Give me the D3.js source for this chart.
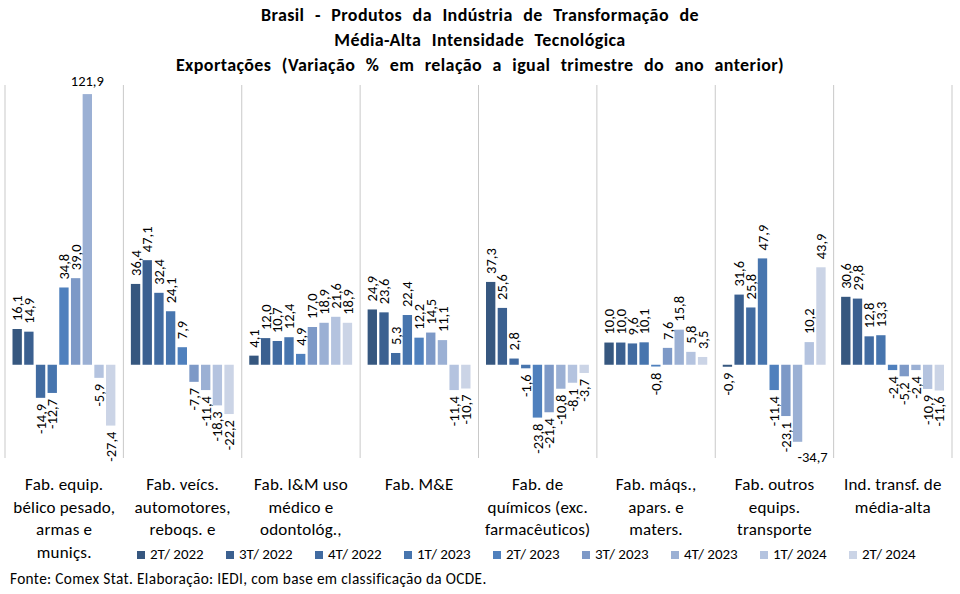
<!DOCTYPE html>
<html>
<head>
<meta charset="utf-8">
<script src="https://cdnjs.cloudflare.com/ajax/libs/d3/7.8.5/d3.min.js"></script>
<style>
  body { margin: 0; background: #fff; }
  text { font-family: Calibri, Carlito, "Liberation Sans", Arial, sans-serif; fill: #000; }
</style>
</head>
<body>
<div id="chart"></div>
<script>
// Chart data
var titleLines = [
  "Brasil - Produtos da Indústria de Transformação de",
  "Média-Alta Intensidade Tecnológica",
  "Exportações (Variação % em relação a igual trimestre do ano anterior)"
];

var quarters = ["2T/ 2022", "3T/ 2022", "4T/ 2022", "1T/ 2023", "2T/ 2023",
                "3T/ 2023", "4T/ 2023", "1T/ 2024", "2T/ 2024"];

var categoryLabels = [
  ["Fab. equip.", "bélico pesado,", "armas e", "muniçs."],
  ["Fab. veícs.", "automotores,", "reboqs. e"],
  ["Fab. I&M uso", "médico e", "odontológ.,"],
  ["Fab. M&E"],
  ["Fab. de", "químicos (exc.", "farmacêuticos)"],
  ["Fab. máqs.,", "apars. e", "maters."],
  ["Fab. outros", "equips.", "transporte"],
  ["Ind. transf. de", "média-alta"]
];

// one array per category, in quarter order
var equipBelico  = [16.1, 14.9, -14.9, -12.7, 34.8, 39.0, 121.9, -5.9, -27.4];
var veiculos     = [36.4, 47.1, 32.4, 24.1, 7.9, -7.7, -11.4, -18.3, -22.2];
var instMedicos  = [4.1, 12.0, 10.7, 12.4, 4.9, 17.0, 18.9, 21.6, 18.9];
var maqEletricos = [24.9, 23.6, 5.3, 22.4, 12.2, 14.5, 11.1, -11.4, -10.7];
var quimicos     = [37.3, 25.6, 2.8, -1.6, -23.8, -21.4, -10.8, -8.1, -3.7];
var maquinas     = [10.0, 10.0, 9.6, 10.1, -0.8, 7.6, 15.8, 5.8, 3.5];
var outrosTransp = [-0.9, 31.6, 25.8, 47.9, -11.4, -23.1, -34.7, 10.2, 43.9];
var mediaAlta    = [30.6, 29.8, 12.8, 13.3, -2.4, -5.2, -2.4, -10.9, -11.6];

var categoryValues = [equipBelico, veiculos, instMedicos, maqEletricos,
                      quimicos, maquinas, outrosTransp, mediaAlta];

var sourceNote = "Fonte: Comex Stat. Elaboração: IEDI, com base em classificação da OCDE.";

// Bar colours, one per quarter
var colors = ["#36577f", "#3b6090", "#416ba1", "#4775ae", "#4f80bd",
              "#7d99c7", "#9bb0d4", "#b4c3df", "#cbd4e6"];

// SVG area
var svgWidth = 960;
var svgHeight = 594;

var plot = { left: 5, right: 952, top: 85, bottom: 458 };

var svg = d3.select("#chart")
  .append("svg")
  .attr("width", svgWidth)
  .attr("height", svgHeight);

// Scales
var x0 = d3.scaleBand()
  .domain(d3.range(categoryValues.length))
  .range([plot.left, plot.right]);

var x1 = d3.scaleBand()
  .domain(quarters)
  .range([7.5, x0.bandwidth() - 8])
  .paddingInner(0.2);

var y = d3.scaleLinear()
  .domain([-42, 126])
  .range([plot.bottom, plot.top]);

// Title
svg.append("g")
  .selectAll("text")
  .data(titleLines)
  .enter()
  .append("text")
  .attr("x", 480)
  .attr("y", (d, i) => 21 + i * 25)
  .attr("text-anchor", "middle")
  .style("font-size", "18px")
  .style("font-weight", "bold")
  .style("letter-spacing", "0.4px")
  .style("word-spacing", "6px")
  .text(d => d);

// Group separators
svg.append("g")
  .selectAll("line")
  .data(d3.range(categoryValues.length + 1))
  .enter()
  .append("line")
  .attr("x1", d => d === categoryValues.length ? plot.right : x0(d))
  .attr("x2", d => d === categoryValues.length ? plot.right : x0(d))
  .attr("y1", plot.top)
  .attr("y2", plot.bottom)
  .attr("stroke", "#c9c9c9")
  .attr("stroke-width", 1);

// Groups of bars
var groups = svg.append("g")
  .selectAll("g")
  .data(categoryValues)
  .enter()
  .append("g")
  .attr("transform", (d, i) => `translate(${x0(i)},0)`);

groups.selectAll("rect")
  .data(d => d.map((v, j) => ({ q: quarters[j], v: v, j: j })))
  .enter()
  .append("rect")
  .attr("x", d => x1(d.q))
  .attr("width", x1.bandwidth())
  .attr("y", d => y(Math.max(0, d.v)))
  .attr("height", d => Math.abs(y(d.v) - y(0)))
  .attr("fill", d => colors[d.j]);

// Value labels (rotated unless they would leave the plot)
var fmt = v => d3.format(".1f")(v).replace(".", ",").replace("−", "-");
var labelSize = 14.5;
var labelLength = 34;

groups.selectAll("text.value")
  .data(d => d.map((v, j) => ({ q: quarters[j], v: v, j: j })))
  .enter()
  .append("text")
  .attr("class", "value")
  .style("font-size", labelSize + "px")
  .each(function(d) {
    var t = d3.select(this);
    var cx = x1(d.q) + x1.bandwidth() / 2;
    if (d.v >= 0) {
      var yStart = y(d.v) - 8;
      if (yStart - labelLength < plot.top) {
        t.attr("x", cx).attr("y", y(d.v) - 8).attr("text-anchor", "middle");
      } else {
        t.attr("transform", `translate(${cx},${yStart}) rotate(-90)`)
          .attr("dy", "0.35em")
          .attr("text-anchor", "start");
      }
    } else {
      var yEnd = y(d.v) + 6;
      if (yEnd + labelLength > plot.bottom + 12) {
        t.attr("x", cx + 15).attr("y", y(d.v) + 20).attr("text-anchor", "middle");
      } else {
        t.attr("transform", `translate(${cx},${yEnd}) rotate(-90)`)
          .attr("dy", "0.35em")
          .attr("text-anchor", "end");
      }
    }
  })
  .text(d => fmt(d.v));

// Category labels
groups.each(function(d, i) {
  d3.select(this).append("g")
    .selectAll("text")
    .data(categoryLabels[i])
    .enter()
    .append("text")
    .attr("x", x0.bandwidth() / 2)
    .attr("y", (line, k) => 490 + k * 22.5)
    .attr("text-anchor", "middle")
    .style("font-size", "17px")
    .style("letter-spacing", "0.2px")
    .text(line => line);
});

// Legend
var legend = svg.append("g")
  .selectAll("g")
  .data(quarters)
  .enter()
  .append("g")
  .attr("transform", (d, i) => `translate(${137 + i * 89},555)`);

legend.append("rect")
  .attr("x", 0)
  .attr("y", -4)
  .attr("width", 8)
  .attr("height", 8)
  .attr("fill", (d, i) => colors[i]);

legend.append("text")
  .attr("x", 13)
  .attr("y", 4)
  .style("font-size", "15px")
  .text(d => d);

// Source note
svg.append("text")
  .attr("x", 10)
  .attr("y", 584)
  .style("font-size", "15.3px")
  .style("letter-spacing", "0.35px")
  .text(sourceNote);
</script>
</body>
</html>
